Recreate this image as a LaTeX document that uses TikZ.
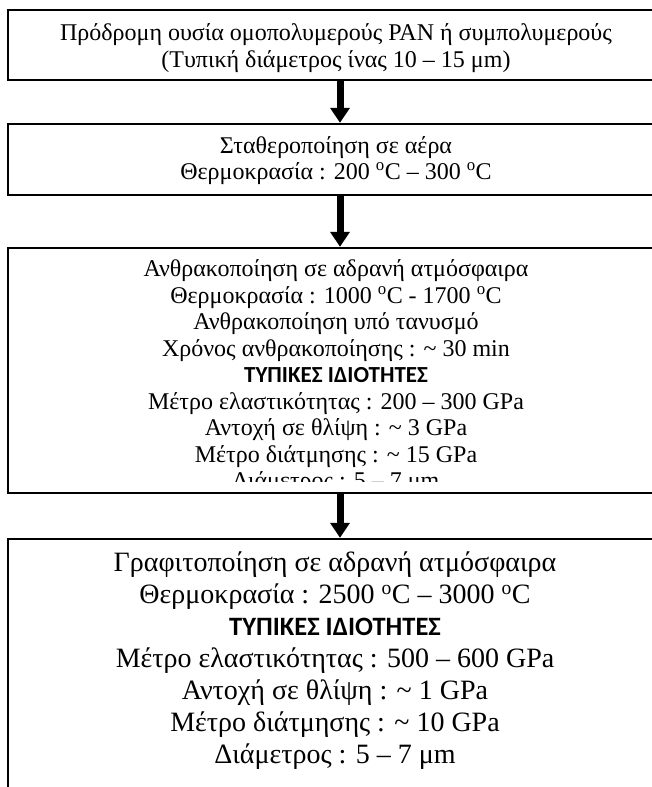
\documentclass[tikz,border=0pt]{standalone}
\usepackage{fontspec}
\setmainfont{Liberation Serif}
\newfontfamily\headfont{Carlito}
\usetikzlibrary{positioning,arrows.meta}

\newcommand{\degC}{\textsuperscript{o}C}
\newcommand{\headline}[2]{{\headfont\bfseries\fontsize{#1}{#1}\selectfont #2}}

\tikzset{
  stage/.style={draw, line width=2.4pt, minimum width=664pt, inner sep=0pt},
  stagetext/.style={inner sep=0pt, align=center},
  flow/.style={line width=7pt, -{Triangle[length=15pt,width=19pt]}},
}

\begin{document}
\begin{tikzpicture}[x=1pt,y=-1pt]
    \useasboundingbox (0,0) rectangle (652,787);
    \clip (0,0) rectangle (652,787);
    % frames (right side runs off the page)
    \node[stage, minimum height=70pt, anchor=north] (precursor) at (340,8.8) {};
    \node[stage, minimum height=71pt, below=41.6pt of precursor] (stabil) {};
    \node[stage, minimum height=245pt, below=50.6pt of stabil] (carbon) {};
    \node[stage, minimum height=300pt, below=43.6pt of carbon] (graphite) {};
    % texts
    \node[stagetext, font=\fontsize{24}{27}\selectfont] (precursortext) at ([xshift=-4pt,yshift=-3pt]precursor.center)
        {Πρόδρομη ουσία ομοπολυμερούς PAN ή συμπολυμερούς\\(Τυπική διάμετρος ίνας 10 – 15 μm)};
    \node[stagetext, font=\fontsize{24}{26}\selectfont] (stabiltext) at ([xshift=-4pt,yshift=-1pt]stabil.center)
        {Σταθεροποίηση σε αέρα\\Θερμοκρασία : 200 \degC{} – 300 \degC};
    \begin{scope}% last line cut off above the bottom line
        \clip (carbon.north west) rectangle ([yshift=13pt]carbon.south east);
        \node[stagetext, font=\fontsize{24}{26.5}\selectfont] (carbontext) at ([xshift=-4pt,yshift=-6.5pt]carbon.center)
            {Ανθρακοποίηση σε αδρανή ατμόσφαιρα\\
             Θερμοκρασία : 1000 \degC{} - 1700 \degC\\
             Ανθρακοποίηση υπό τανυσμό\\
             Χρόνος ανθρακοποίησης : \textasciitilde{} 30 min\\
             \headline{23}{ΤΥΠΙΚΕΣ ΙΔΙΟΤΗΤΕΣ}\\
             Μέτρο ελαστικότητας : 200 – 300 GPa\\
             Αντοχή σε θλίψη : \textasciitilde{} 3 GPa\\
             Μέτρο διάτμησης : \textasciitilde{} 15 GPa\\
             Διάμετρος : 5 – 7 μm};
    \end{scope}
    \node[stagetext, anchor=north, font=\fontsize{28}{32}\selectfont] (graphitetext) at ([xshift=-5pt,yshift=-14pt]graphite.north)
        {Γραφιτοποίηση σε αδρανή ατμόσφαιρα\\
         Θερμοκρασία : 2500 \degC{} – 3000 \degC\\
         \headline{26.5}{ΤΥΠΙΚΕΣ ΙΔΙΟΤΗΤΕΣ}\\
         Μέτρο ελαστικότητας : 500 – 600 GPa\\
         Αντοχή σε θλίψη : \textasciitilde{} 1 GPa\\
         Μέτρο διάτμησης : \textasciitilde{} 10 GPa\\
         Διάμετρος : 5 – 7 μm};
    % arrows
    \draw[flow] (precursor) -- (stabil);
    \draw[flow] (stabil) -- (carbon);
    \draw[flow] (carbon) -- (graphite);
\end{tikzpicture}
\end{document}
